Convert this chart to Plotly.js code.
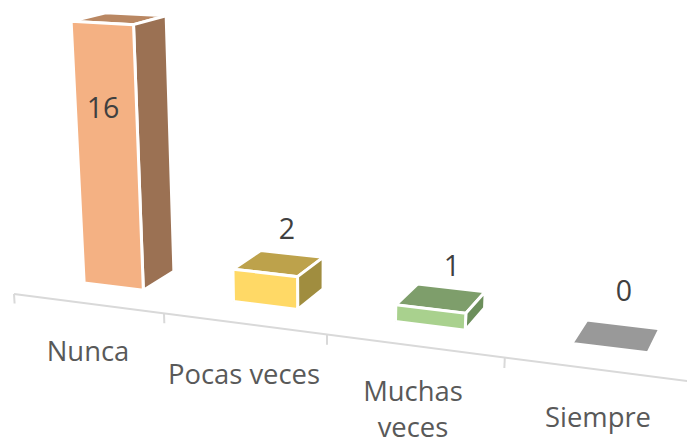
<!DOCTYPE html>
<html>
<head>
<meta charset="utf-8">
<script src="https://cdn.plot.ly/plotly-3.0.1.min.js"></script>
<style>html,body{margin:0;padding:0;background:#fff}#chart{width:687px;height:445px}</style>
</head>
<body>
<div id="chart"></div>
<script>
// Data
const categories = ["Nunca", "Pocas veces", "Muchas<br>veces", "Siempre"];
const values = [16, 2, 1, 0];

// Styles
const frontColors = ["#F4B183", "#FFD966", "#A9D18E", "#999999"];
const sideColors  = ["#9B7153", "#A08D3F", "#6C8F5B", "#999999"];
const topColors   = ["#B98762", "#BDA24B", "#7E9E6B", "#999999"];
const textColor = "#595959";
const valueColor = "#404040";
const axisColor = "#D9D9D9";
const fontFamily = '"Open Sans", "Noto Sans", sans-serif';
const catFontSize = 27.4;
const valueFontSize = 28.5;

// Label anchors (screen space)
const valueLabelX = [103, 287, 452, 624];
const valueLabelY = [111, 232, 269, 294];
const catLabelX = [88, 244, 413, 598];
const catLabelY = [354, 377, 412, 420];

// Perspective camera: c = along category axis, d = depth, v = value
const cam = {
  x0: 14, xc: 143.46, xd: 32.98, xv: -1.077,
  y0: 294, yc: 6.9, yd: -6.84, yv: -16.8,
  wc: -0.0399, wd: 0.036, wv: -0.00343
};
function project(c, d, v) {
  const w = 1 + cam.wc * c + cam.wd * d + cam.wv * v;
  return [(cam.x0 + cam.xc * c + cam.xd * d + cam.xv * v) / w,
          (cam.y0 + cam.yc * c + cam.yd * d + cam.yv * v) / w];
}

const barCentreOffset = 0.487;
const barHalfWidth = 0.203;
const depthFront = 0.95, depthBack = 2.1;
const tickDrop = -0.6;

function poly(points, fill, lineWidth, lineColor) {
  const p = points.concat([points[0]]).map(q => project(q[0], q[1], q[2]));
  return {
    type: "scatter", mode: "lines", hoverinfo: "skip",
    x: p.map(q => q[0]), y: p.map(q => q[1]),
    fill: "toself", fillcolor: fill,
    line: {color: lineColor, width: lineWidth}
  };
}

const traces = [];

// Category axis
const axisC = categories.map((_, i) => i).concat([categories.length]);
const axisPts = axisC.map(c => project(c, 0, 0));
traces.push({type: "scatter", mode: "lines", hoverinfo: "skip",
  x: axisPts.map(p => p[0]), y: axisPts.map(p => p[1]),
  line: {color: axisColor, width: 2}});
axisC.slice(0, categories.length).forEach(c => {
  const a = project(c, 0, 0), b = project(c, 0, tickDrop);
  traces.push({type: "scatter", mode: "lines", hoverinfo: "skip",
    x: [a[0], b[0]], y: [a[1], b[1]], line: {color: axisColor, width: 2}});
});

// Bars
values.forEach((v, i) => {
  const c0 = i + barCentreOffset - barHalfWidth, c1 = i + barCentreOffset + barHalfWidth;
  const d0 = depthFront, d1 = depthBack;
  if (v > 0) {
    traces.push(poly([[c0,d0,v],[c1,d0,v],[c1,d1,v],[c0,d1,v]], topColors[i], 3, "#FFFFFF"));
    traces.push(poly([[c1,d0,0],[c1,d1,0],[c1,d1,v],[c1,d0,v]], sideColors[i], 3, "#FFFFFF"));
    traces.push(poly([[c0,d0,0],[c1,d0,0],[c1,d0,v],[c0,d0,v]], frontColors[i], 3, "#FFFFFF"));
  } else {
    traces.push(poly([[c0,d0,0],[c1,d0,0],[c1,d1,0],[c0,d1,0]], topColors[i], 3, "#FFFFFF"));
  }
});

// Labels
traces.push({type: "scatter", mode: "text", hoverinfo: "skip",
  x: valueLabelX, y: valueLabelY, text: values.map(String), textposition: "middle center",
  textfont: {family: fontFamily, size: valueFontSize, color: valueColor}});
traces.push({type: "scatter", mode: "text", hoverinfo: "skip",
  x: catLabelX, y: catLabelY, text: categories, textposition: "middle center",
  textfont: {family: fontFamily, size: catFontSize, color: textColor}});

const layout = {
  width: 687, height: 445, showlegend: false,
  margin: {l: 0, r: 0, t: 0, b: 0},
  paper_bgcolor: "#FFFFFF", plot_bgcolor: "#FFFFFF",
  xaxis: {range: [0, 687], visible: false, fixedrange: true},
  yaxis: {range: [445, 0], visible: false, fixedrange: true}
};
Plotly.newPlot("chart", traces, layout, {displayModeBar: false, staticPlot: true});
</script>
</body>
</html>
